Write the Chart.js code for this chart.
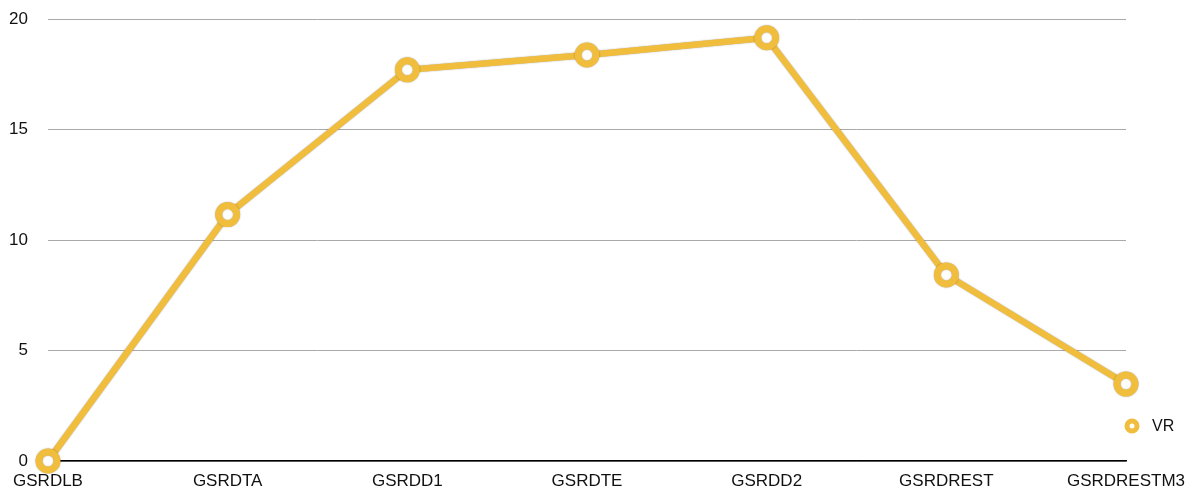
<!DOCTYPE html>
<html>
<head>
<meta charset="utf-8">
<script src="https://cdn.jsdelivr.net/npm/chart.js@4/dist/chart.umd.min.js"></script>
<style>
  html, body { margin: 0; padding: 0; background: #fff; }
  #wrap { width: 1190px; height: 491px; }
</style>
</head>
<body>
<div id="wrap"><canvas id="vrChart"></canvas></div>
<script>
const categories = ['GSRDLB', 'GSRDTA', 'GSRDD1', 'GSRDTE', 'GSRDD2', 'GSRDREST', 'GSRDRESTM3'];
const vrValues = [0, 11.15, 17.7, 18.37, 19.15, 8.42, 3.48];
const yTicks = [0, 5, 10, 15, 20];

const lineColor = '#f0bd3c';

// soft dark edge under the line and markers
const lineShadow = {
    id: 'lineShadow',
    beforeDatasetsDraw(chart) {
        const ctx = chart.ctx;
        ctx.save();
        ctx.shadowColor = 'rgba(0,0,0,0.35)';
        ctx.shadowBlur = 1.5;
    },
    afterDatasetsDraw(chart) {
        chart.ctx.restore();
    }
};

// small legend to the right of the plot, near the bottom
const sideLegend = {
    id: 'sideLegend',
    afterDraw(chart) {
        const {ctx, chartArea} = chart;
        const ds = chart.data.datasets[0];
        const x = chartArea.right + 6;
        const y = chartArea.bottom - 35;
        ctx.save();
        ctx.beginPath();
        ctx.arc(x, y, 5, 0, Math.PI * 2);
        ctx.fillStyle = '#fff';
        ctx.fill();
        ctx.lineWidth = 5;
        ctx.strokeStyle = ds.borderColor;
        ctx.stroke();
        ctx.fillStyle = '#111';
        ctx.font = "16px 'Liberation Sans', Arial, sans-serif";
        ctx.textBaseline = 'middle';
        ctx.textAlign = 'left';
        ctx.fillText(ds.label, x + 20, y + 1);
        ctx.restore();
    }
};

Chart.defaults.font.family = "'Liberation Sans', Arial, sans-serif";
Chart.defaults.font.size = 17;
Chart.defaults.color = '#111';

new Chart(document.getElementById('vrChart'), {
    type: 'line',
    data: {
        labels: categories,
        datasets: [{
            label: 'VR',
            data: vrValues,
            borderColor: lineColor,
            borderWidth: 6.5,
            pointRadius: 9,
            pointHoverRadius: 9,
            pointBorderWidth: 7,
            pointBorderColor: lineColor,
            pointBackgroundColor: '#fff',
            tension: 0,
            clip: false
        }]
    },
    plugins: [lineShadow, sideLegend],
    options: {
        responsive: true,
        maintainAspectRatio: false,
        animation: false,
        layout: { padding: { top: 19, left: 8, right: 64, bottom: 0 } },
        plugins: {
            legend: { display: false },
            tooltip: { enabled: false }
        },
        scales: {
            x: {
                offset: false,
                grid: { display: false, drawTicks: false },
                border: { display: true, color: '#000', width: 1.5 },
                ticks: { padding: 10, maxRotation: 0, autoSkip: false },
                afterFit: axis => {
                    axis.height = 30;
                    axis.paddingLeft = 0;
                    axis.paddingRight = 0;
                }
            },
            y: {
                min: 0,
                max: 20,
                afterBuildTicks: axis => { axis.ticks = yTicks.map(v => ({ value: v })); },
                grid: { color: '#a9a9a9', lineWidth: 1, drawTicks: false },
                border: { display: false },
                ticks: { padding: 20 },
                afterFit: axis => {
                    axis.width = 40;
                    axis.paddingTop = 0;
                    axis.paddingBottom = 0;
                }
            }
        }
    }
});
</script>
</body>
</html>
